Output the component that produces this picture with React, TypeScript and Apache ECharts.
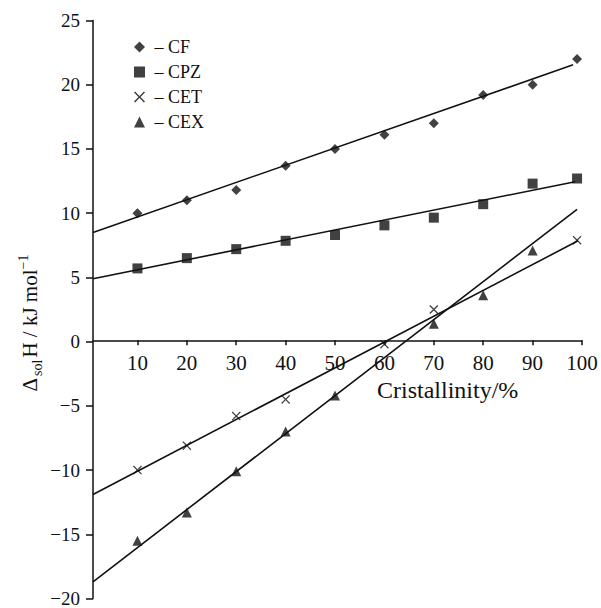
import React, { useEffect, useRef } from "react";
import * as echarts from "echarts";

const FONT = "'Liberation Serif', 'DejaVu Serif', serif";
const INK = "#111";

const seriesNames = ["CF", "CPZ", "CET", "CEX"];
const xTicks = [10, 20, 30, 40, 50, 60, 70, 80, 90, 100];

const cfPoints = [[10, 10.0], [20, 11.0], [30, 11.8], [40, 13.7], [50, 15.0], [60, 16.1], [70, 17.0], [80, 19.2], [90, 20.0], [99, 22.0]];
const cpzPoints = [[10, 5.7], [20, 6.5], [30, 7.2], [40, 7.85], [50, 8.3], [60, 9.05], [70, 9.65], [80, 10.7], [90, 12.3], [99, 12.7]];
const cetPoints = [[10, -10.0], [20, -8.1], [30, -5.8], [40, -4.5], [60, -0.2], [70, 2.5], [99, 7.9]];
const cexPoints = [[10, -15.5], [20, -13.3], [30, -10.1], [40, -7.0], [50, -4.2], [70, 1.4], [80, 3.6], [90, 7.1]];

const cfFit = [[1, 8.5], [98.2, 21.55]];
const cpzFit = [[1, 4.9], [98.6, 12.45]];
const cetFit = [[1, -11.9], [99.2, 7.85]];
const cexFit = [[1, -18.7], [99, 10.3]];

const CROSS = "path://M1,0L5,4L9,0L10,1L6,5L10,9L9,10L5,6L1,10L0,9L4,5L0,1Z";

const GRID_TOP = 20.5;
const GRID_BOTTOM = 6.5;
const Y_MIN = -20;
const Y_MAX = 25;

export default function App() {
  const ref = useRef<HTMLDivElement>(null);
  useEffect(() => {
    if (!ref.current) return;
    const chart = echarts.init(ref.current, null, { renderer: "svg" });
    const gridHeight = 608 - GRID_TOP - GRID_BOTTOM;
    // distance from grid bottom up to the y = 0 line
    const zeroOffset = -(gridHeight * (0 - Y_MIN)) / (Y_MAX - Y_MIN);
    const fit = (name: string, data: number[][]) => ({
      name,
      type: "line",
      data,
      symbol: "none",
      lineStyle: { color: INK, width: 1.6 },
      silent: true,
      z: 1,
    });
    const pts = (name: string, data: number[][], symbol: string, size: number) => ({
      name,
      type: "scatter",
      data,
      symbol,
      symbolSize: size,
      itemStyle: { color: INK },
      z: 3,
    });
    chart.setOption({
      animation: false,
      backgroundColor: "#fff",
      grid: { left: 93, right: 19, top: GRID_TOP, bottom: GRID_BOTTOM, containLabel: false },
      legend: {
        orient: "vertical",
        left: 129,
        top: 33,
        itemWidth: 11,
        itemHeight: 11,
        itemGap: 7,
        data: seriesNames,
        formatter: (n: string) => " – " + n,
        textStyle: { fontFamily: FONT, fontSize: 18, color: INK, lineHeight: 18 },
      },
      xAxis: {
        type: "value",
        min: 1,
        max: 100,
        position: "bottom",
        offset: zeroOffset,
        splitLine: { show: false },
        axisLine: { onZero: false, lineStyle: { color: INK, width: 1.5 } },
        axisTick: { show: true, length: 5, customValues: xTicks, lineStyle: { color: INK, width: 1.5 } },
        axisLabel: {
          customValues: xTicks,
          margin: 12,
          fontFamily: FONT,
          fontSize: 21,
          color: INK,
        },
      },
      yAxis: {
        type: "value",
        min: Y_MIN,
        max: Y_MAX,
        interval: 5,
        splitLine: { show: false },
        axisLine: { show: true, onZero: false, lineStyle: { color: INK, width: 1.5 } },
        axisTick: { show: true, length: 7, lineStyle: { color: INK, width: 1.5 } },
        axisLabel: {
          margin: 13,
          fontFamily: FONT,
          fontSize: 19,
          color: INK,
          formatter: (v: number) => (v < 0 ? "−" + Math.abs(v) : String(v)),
        },
      },
      graphic: [
        {
          type: "text",
          x: 377,
          y: 390,
          style: {
            text: "Cristallinity/%",
            fontFamily: FONT,
            fontSize: 24,
            fill: INK,
            textAlign: "left",
            textVerticalAlign: "middle",
          },
        },
        {
          type: "text",
          x: 30,
          y: 323,
          rotation: Math.PI / 2,
          style: {
            text: "{a|Δ}{s|sol}{a|H / kJ mol}{p|−1}",
            textAlign: "center",
            textVerticalAlign: "middle",
            fill: INK,
            rich: {
              a: { fontFamily: FONT, fontSize: 21, fill: INK, lineHeight: 28, verticalAlign: "middle" },
              s: { fontFamily: FONT, fontSize: 14, fill: INK, lineHeight: 28, verticalAlign: "bottom", padding: [0, 2, 0, 2] },
              p: { fontFamily: FONT, fontSize: 14, fill: INK, lineHeight: 28, verticalAlign: "top" },
            },
          },
        },
      ],
      series: [
        fit("CF fit", cfFit),
        fit("CPZ fit", cpzFit),
        fit("CET fit", cetFit),
        fit("CEX fit", cexFit),
        pts("CF", cfPoints, "diamond", 10),
        pts("CPZ", cpzPoints, "rect", 10),
        pts("CET", cetPoints, CROSS, 9),
        pts("CEX", cexPoints, "triangle", 10),
      ],
    });
    return () => chart.dispose();
  }, []);
  return <div ref={ref} style={{ position: "fixed", left: 0, top: 0, width: 601, height: 608 }} />;
}
